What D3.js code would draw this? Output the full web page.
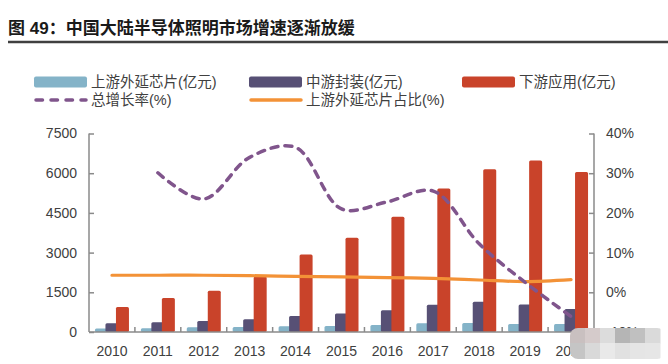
<!DOCTYPE html>
<html>
<head>
<meta charset="utf-8">
<script src="https://cdn.jsdelivr.net/npm/d3@7"></script>
<style>
  html, body { margin: 0; padding: 0; background: #fff; }
  svg text { font-family: "Liberation Sans", Arial, "Noto Sans CJK SC", sans-serif; }
</style>
</head>
<body>
<div id="chart"></div>
<script>
// values
var years = ['2010', '2011', '2012', '2013', '2014', '2015', '2016', '2017', '2018', '2019', '2020'];
var upstream = [130, 140, 180, 190, 220, 230, 260, 330, 340, 300, 300];         // 上游外延芯片(亿元)
var midstream = [330, 370, 420, 480, 600, 700, 820, 1030, 1140, 1040, 870];     // 中游封装(亿元)
var downstream = [940, 1280, 1560, 2100, 2930, 3560, 4350, 5420, 6150, 6480, 6050]; // 下游应用(亿元)
var growth = [null, 30.1, 23.5, 34, 36.5, 21, 22.8, 25.5, 12.2, 2.5, -6.1];     // 总增长率(%)
var share = [4.3, 4.3, 4.3, 4.2, 4.0, 3.9, 3.7, 3.5, 3.1, 2.7, 3.2];             // 上游外延芯片占比(%)
var leftTicks = [0, 1500, 3000, 4500, 6000, 7500];
var rightTicks = [-10, 0, 10, 20, 30, 40];

var W = 668,
    H = 364,
    PLOT = { left: 89, right: 594, top: 133.5, bottom: 332 },
    BAR_W = 13,
    BAR_STEP = 10.5,
    AXIS_COLOR = '#8a8a8a',
    TEXT_COLOR = '#404040',
    colors = {
      up: '#84b3c8',
      mid: '#575075',
      down: '#c9432a',
      growth: '#80558c',
      share: '#f39237'
    };

var svg = d3.select('#chart')
  .append('svg')
  .attr('width', W)
  .attr('height', H);

svg.append('rect')
  .attr('width', W)
  .attr('height', H)
  .style('fill', '#fff');

// title + rule
svg.append('text')
  .attr('x', 8)
  .attr('y', 34)
  .style('font-size', '17px')
  .style('font-weight', 'bold')
  .style('fill', '#1a1a1a')
  .text('图 49：中国大陆半导体照明市场增速逐渐放缓');

svg.append('line')
  .attr('x1', 8).attr('x2', W)
  .attr('y1', 42).attr('y2', 42)
  .attr('stroke', '#404040')
  .attr('stroke-width', 2.5);

// scales
var x = d3.scaleBand().domain(years).range([PLOT.left, PLOT.right]);
var yLeft = d3.scaleLinear().domain([0, 7500]).range([PLOT.bottom, PLOT.top]);
var yRight = d3.scaleLinear().domain([-10, 40]).range([PLOT.bottom, PLOT.top]);
var center = function (d) { return x(d) + x.bandwidth() / 2; };

// bars, drawn in series order so later ones overlap earlier ones
var series = [
  { key: 'up', values: upstream },
  { key: 'mid', values: midstream },
  { key: 'down', values: downstream }
];

series.forEach(function (s, si) {
  svg.append('g')
    .selectAll('rect')
    .data(s.values)
    .enter()
    .append('rect')
    .attr('x', function (d, i) { return center(years[i]) - (BAR_STEP * 2 + BAR_W) / 2 + si * BAR_STEP; })
    .attr('y', function (d) { return yLeft(d); })
    .attr('width', BAR_W)
    .attr('height', function (d) { return yLeft(0) - yLeft(d); })
    .attr('rx', 1.5)
    .style('fill', colors[s.key]);
});

// axes
var leftAxis = d3.axisLeft(yLeft).tickValues(leftTicks).tickSize(-5).tickPadding(12)
  .tickFormat(d3.format('d'));
var rightAxis = d3.axisRight(yRight).tickValues(rightTicks).tickSize(-5).tickPadding(12)
  .tickFormat(function (d) { return d + '%'; });

var styleAxis = function (g) {
  g.selectAll('path, line').attr('stroke', AXIS_COLOR).attr('stroke-width', 1.5);
  g.selectAll('text').style('font-size', '14px').style('fill', TEXT_COLOR);
};

svg.append('g')
  .attr('transform', 'translate(' + PLOT.left + ',0)')
  .call(leftAxis)
  .call(function (g) { g.select('.domain').attr('d', 'M0,' + PLOT.top + 'V' + PLOT.bottom); })
  .call(styleAxis);

svg.append('g')
  .attr('transform', 'translate(' + PLOT.right + ',0)')
  .call(rightAxis)
  .call(function (g) { g.select('.domain').attr('d', 'M0,' + PLOT.top + 'V' + PLOT.bottom); })
  .call(styleAxis);

// category axis: ticks sit on band boundaries, labels at centres
var xAxis = svg.append('g');
xAxis.append('line')
  .attr('x1', PLOT.left).attr('x2', PLOT.right)
  .attr('y1', PLOT.bottom).attr('y2', PLOT.bottom)
  .attr('stroke', AXIS_COLOR)
  .attr('stroke-width', 1.5);

xAxis.selectAll('line.tick')
  .data(years.slice(1))
  .enter()
  .append('line')
  .attr('class', 'tick')
  .attr('x1', function (d) { return x(d); })
  .attr('x2', function (d) { return x(d); })
  .attr('y1', PLOT.bottom)
  .attr('y2', PLOT.bottom - 5)
  .attr('stroke', AXIS_COLOR)
  .attr('stroke-width', 1.5);

xAxis.selectAll('text')
  .data(years)
  .enter()
  .append('text')
  .attr('x', center)
  .attr('y', 356)
  .attr('text-anchor', 'middle')
  .style('font-size', '14px')
  .style('fill', TEXT_COLOR)
  .text(function (d) { return d; });

// lines on the right axis
var shareLine = d3.line()
  .x(function (d, i) { return center(years[i]); })
  .y(function (d) { return yRight(d); })
  .curve(d3.curveCatmullRom.alpha(0.5));

svg.append('path')
  .datum(share)
  .attr('d', shareLine)
  .attr('fill', 'none')
  .attr('stroke', colors.share)
  .attr('stroke-width', 3.2)
  .attr('stroke-linecap', 'round');

var growthPts = growth
  .map(function (d, i) { return { year: years[i], v: d }; })
  .filter(function (d) { return d.v !== null; });

var growthLine = d3.line()
  .x(function (d) { return center(d.year); })
  .y(function (d) { return yRight(d.v); })
  .curve(d3.curveCatmullRom.alpha(0.5));

svg.append('path')
  .datum(growthPts)
  .attr('d', growthLine)
  .attr('fill', 'none')
  .attr('stroke', colors.growth)
  .attr('stroke-width', 3.5)
  .attr('stroke-linecap', 'round')
  .attr('stroke-dasharray', '7,7');

// legend
var legendData = [
  { label: '上游外延芯片(亿元)', type: 'rect', color: colors.up, x: 34, y: 82 },
  { label: '中游封装(亿元)', type: 'rect', color: colors.mid, x: 249, y: 82 },
  { label: '下游应用(亿元)', type: 'rect', color: colors.down, x: 462, y: 82 },
  { label: '总增长率(%)', type: 'dash', color: colors.growth, x: 34, y: 100 },
  { label: '上游外延芯片占比(%)', type: 'line', color: colors.share, x: 249, y: 100 }
];

var legend = svg.selectAll('g.legend')
  .data(legendData)
  .enter()
  .append('g')
  .attr('class', 'legend')
  .attr('transform', function (d) { return 'translate(' + d.x + ',' + d.y + ')'; });

legend.filter(function (d) { return d.type === 'rect'; })
  .append('rect')
  .attr('x', 0).attr('y', -5.5)
  .attr('width', 53).attr('height', 11)
  .attr('rx', 2)
  .style('fill', function (d) { return d.color; });

legend.filter(function (d) { return d.type !== 'rect'; })
  .append('line')
  .attr('x1', 2).attr('x2', 52)
  .attr('y1', 0).attr('y2', 0)
  .attr('stroke', function (d) { return d.color; })
  .attr('stroke-width', 3.5)
  .attr('stroke-linecap', 'round')
  .attr('stroke-dasharray', function (d) { return d.type === 'dash' ? '6.5,8.5' : null; });

legend.append('text')
  .attr('x', 57)
  .attr('y', 0)
  .attr('dy', '0.35em')
  .style('font-size', '14.5px')
  .style('fill', TEXT_COLOR)
  .text(function (d) { return d.label; });

// pixelated watermark patch in the bottom right corner
var mosaic = [
  ['#c9c0c0', '#d5cbcb', '#dcdcdc', '#b5b5b5', '#c0c0c0', '#dadada'],
  ['#c5c5c5', '#d9d9d9', '#e9e9e9', '#e1e1e1', '#e5e5e5', '#e6e6e6']
];
var patch = svg.append('g');
patch.append('clipPath')
  .attr('id', 'mosaic-clip')
  .append('rect')
  .attr('x', 570).attr('y', 328)
  .attr('width', 95).attr('height', 31)
  .attr('rx', 8);
mosaic.forEach(function (row, r) {
  patch.selectAll('rect.r' + r)
    .data(row)
    .enter()
    .append('rect')
    .attr('class', 'r' + r)
    .attr('clip-path', 'url(#mosaic-clip)')
    .attr('x', function (d, c) { return 570 + c * 15; })
    .attr('y', 328 + r * 15)
    .attr('width', 15.5)
    .attr('height', r === 0 ? 15.5 : 16)
    .style('fill', function (d) { return d; });
});
</script>
</body>
</html>
